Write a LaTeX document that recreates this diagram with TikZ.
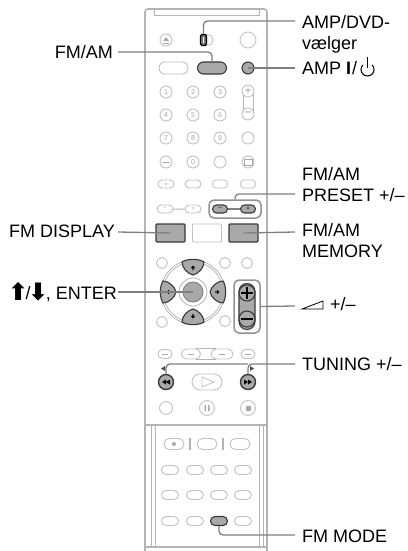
\documentclass[tikz,border=0pt]{standalone}
\usepackage{fontspec}
\setmainfont{Liberation Sans}
\newfontfamily\symfont{DejaVu Sans}
\usetikzlibrary{shapes.misc}
\definecolor{shell}{HTML}{B4B4B4}
\definecolor{btn}{HTML}{C2C2C2}
\definecolor{glyph}{HTML}{A8A8A8}
\definecolor{hot}{HTML}{A9A9A9}
\definecolor{edge}{HTML}{3A3A3A}
\definecolor{leadc}{HTML}{7F7F7F}
\tikzset{
  x=1pt,y=-1pt,
  shellline/.style={draw=shell,line width=1.6pt},
  thin shell/.style={draw=shell,line width=1pt},
  rnd/.style={circle,draw=btn,line width=.9pt,inner sep=0,fill=white,font=\fontsize{7}{7}\selectfont,text=glyph},
  pill/.style={rounded rectangle,draw=btn,line width=.9pt,inner sep=0,fill=white,minimum width=16pt,minimum height=8pt,font=\fontsize{6}{6}\selectfont,text=glyph},
  hotpill/.style={pill,draw=edge,fill=hot,line width=1.1pt,text=black},
  hotrnd/.style={rnd,draw=edge,fill=hot,line width=1.1pt,text=black},
  box/.style={rectangle,rounded corners=1pt,inner sep=0,minimum width=29pt,minimum height=18pt},
  lead/.style={draw=leadc,line width=1.3pt,rounded corners=4pt},
  lbl/.style={inner sep=0,anchor=west,align=left,font=\fontsize{18}{21}\selectfont,text=black},
  lbr/.style={inner sep=0,anchor=east,font=\fontsize{18}{21}\selectfont,text=black},
  frame/.style={draw=leadc!85,line width=1.5pt,rounded corners=5pt},
}
\newcommand{\bigarrow}[1]{\kern-2.5pt{\symfont\bfseries\fontsize{24}{21}\selectfont\raisebox{-1.5pt}{#1}}\kern-2.5pt}
\begin{document}
\begin{tikzpicture}
\useasboundingbox (0,0) rectangle (407,551);
% body of the remote
\draw[shellline,rounded corners=3pt] (145,551) -- (145,9) -- (267,9) -- (267,551);
\draw[thin shell] (154,10) -- (154,16) -- (259,16) -- (259,10);
\draw[shellline] (145,425) -- (267,425);
\draw[thin shell] (151,425) -- (151,547) (155,425) -- (155,547) (259,425) -- (259,547) (263,425) -- (263,547);
\draw[shellline] (145,547) -- (267,547);
% top block
\node[rnd,minimum size=12pt] (eject) at (166,40) {};
\fill[glyph] (163,41) -- (166,37) -- (169,41) -- cycle;
\draw[glyph,line width=.7pt] (163,43) -- (169,43);
\node[rounded rectangle,draw=btn,line width=.9pt,minimum width=12pt,minimum height=11pt,inner sep=0] (swbase) at (207,40) {};
\node[rectangle,rounded corners=1.5pt,draw=black,fill=hot!70!black,line width=1.3pt,minimum width=6pt,minimum height=11pt,inner sep=0] (sw) at (203.5,40) {};
\draw[white,line width=.6pt] (203.5,37) -- (203.5,43);
\node[rnd,minimum size=16pt] (big) at (248,40) {};
\node[pill,minimum width=29pt,minimum height=12pt] (wide) at (173.5,68) {};
\node[hotpill,minimum width=29pt,minimum height=12pt] (fmam) at (212,68) {};
\node[hotrnd,minimum size=12pt] (amp) at (248,68) {};
\foreach \n/\x/\y in {1/166/92,2/193/92,3/220/92,4/166/115,5/193/115,6/220/115,7/166/138,8/193/138,9/220/138,0/193/162}
  \node[rnd,minimum size=12pt] (n\n) at (\x,\y) {\n};
\node[rnd,minimum size=12pt] (subt) at (166,162) {};
\draw[glyph,line width=.5pt] (162,162) -- (170,162);
\node[rnd,minimum size=12pt] (r4c) at (220,162) {};
\node[rnd,minimum size=12pt] (r4d) at (248,162) {};
\draw[glyph,line width=.5pt] (244,159) rectangle (252,165);
\node[rnd,minimum size=12pt] (r3d) at (248,138) {};
\draw[thin shell] (243,92) -- (243,115) (253,92) -- (253,115);
\node[rnd,minimum size=12pt,font=\fontsize{12}{12}\selectfont] (chp) at (248,91) {+};
\node[rnd,minimum size=12pt,font=\fontsize{12}{12}\selectfont] (chm) at (248,114) {–};
\foreach \n/\x in {a/166,b/193,c/220,d/248}
  \node[pill] (p\n) at (\x,184) {};
\fill[glyph] (pa) circle (1pt);
% preset row
\node[pill] (qa) at (165,209) {–};
\node[pill] (qb) at (193,209) {+};
\draw[thin shell] (qa) -- (qb);
\node[frame,draw,minimum width=52pt,minimum height=18pt,inner sep=0] (presetframe) at (235,209) {};
\node[hotpill,minimum width=15pt] (qc) at (220,209) {–};
\node[hotpill,minimum width=15pt] (qd) at (248,209) {+};
\draw[edge,line width=1.1pt] (qc) -- (qd);
% big boxes
\node[box,draw=edge,fill=hot,line width=1.1pt] (disp) at (170.5,233) {};
\node[box,draw=btn,line width=.9pt] (midbox) at (207,233) {};
\node[box,draw=edge,fill=hot,line width=1.1pt] (mem) at (243.5,233) {};
% side circles
\foreach \n/\x/\y in {ca/162/263,cb/225/263,cc/247/263,cd/162/322,ce/225/321}
  \node[rnd,minimum size=11pt] (\n) at (\x,\y) {};
% d-pad
\coordinate (dc) at (193,292);
\draw[shell,line width=.8pt] (dc) circle (32pt) (dc) circle (30pt) (dc) circle (14pt);
\foreach \a in {0,90,180,270}{
  \begin{scope}[shift={(193,292)},rotate=\a]
    \draw[draw=edge,fill=hot,line width=1.1pt] (-11,-30) .. controls (-6,-33.5) and (6,-33.5) .. (11,-30) .. controls (11,-24) and (5,-18) .. (0,-17) .. controls (-5,-18) and (-11,-24) .. cycle;
    \fill[black] (-2.2,-24) -- (0,-26.5) -- (2.2,-24) -- (.6,-24) -- (.6,-22) -- (-.6,-22) -- (-.6,-24) -- cycle;
  \end{scope}}
\node[circle,fill=hot,draw=leadc,line width=.9pt,minimum size=20pt,inner sep=0] (enter) at (dc) {};
% volume
\node[frame,draw,minimum width=26pt,minimum height=53pt,inner sep=0] (volframe) at (247,306.5) {};
\node[rectangle,rounded corners=8pt,draw=edge,fill=hot,line width=1.1pt,minimum width=16pt,minimum height=46pt,inner sep=0] (volbody) at (247,306.5) {};
\node[circle,draw=edge,fill=hot,line width=1.1pt,minimum size=16pt,inner sep=0] (volp) at (247,293) {};
\node[circle,draw=edge,fill=hot,line width=1.1pt,minimum size=16pt,inner sep=0] (volm) at (247,319) {};
\draw[black,line width=1.2pt] (241,293) -- (253,293) (247,287) -- (247,299) (241,319) -- (253,319);
% skip row
\node[pill,minimum width=14pt,minimum height=9pt] (s1) at (165,354) {};
\node[pill,minimum width=19pt,minimum height=10pt] (s2) at (191,354) {};
\node[pill,minimum width=22pt,minimum height=10pt] (s3) at (222,354) {};
\node[pill,minimum width=14pt,minimum height=9pt] (s4) at (248,354) {};
\draw[thin shell] (s2.north east) -- (s3.north west) (s2.south east) -- (s3.south west);
\foreach \n in {s1,s2,s3,s4}{\draw[glyph,line width=.6pt] ([xshift=-3pt]\n.center) -- ([xshift=3pt]\n.center);}
% transport
\node[hotrnd,minimum size=15pt,line width=1.4pt] (rew) at (166,382) {};
\node[hotrnd,minimum size=15pt,line width=1.4pt] (ffw) at (248,382) {};
\fill[black] (166,379.5) -- (162,382) -- (166,384.5) -- cycle (170,379.5) -- (166,382) -- (170,384.5) -- cycle;
\fill[black] (248,379.5) -- (252,382) -- (248,384.5) -- cycle (244,379.5) -- (248,382) -- (244,384.5) -- cycle;
\fill[black!70] (165,366) -- (161,368.5) -- (165,371) -- cycle (250,366) -- (254,368.5) -- (250,371) -- cycle;
\node[pill,minimum width=30pt,minimum height=16pt] (play) at (207,382) {};
\draw[btn,line width=.8pt] (202,377) -- (214,382) -- (202,387) -- cycle;
\node[rnd,minimum size=13pt] (t1) at (166,408) {};
\node[rnd,minimum size=15pt] (t2) at (207,408) {};
\node[rnd,minimum size=15pt] (t3) at (248,408) {};
\fill[glyph] (204.5,405) rectangle (206,411) (208,405) rectangle (209.5,411);
\fill[glyph] (245.5,405.5) rectangle (250.5,410.5);
% lower panel
\node[pill,minimum width=20pt,minimum height=11pt] (l1) at (174,444) {};
\fill[glyph] (l1) circle (2pt);
\node[pill,minimum width=20pt,minimum height=11pt] (l2) at (207,444) {};
\node[pill,minimum width=20pt,minimum height=11pt] (l3) at (240,444) {};
\draw[shell,line width=1.3pt] (190,438) -- (190,450) (223,438) -- (223,450);
\foreach \r/\y in {a/470,b/495,c/521}
  \foreach \c/\x in {1/170,2/195,3/219,4/243}
    \node[pill,minimum width=17pt,minimum height=9pt] (m\r\c) at (\x,\y) {};
\node[hotpill,minimum width=17pt,minimum height=9pt] (mode) at (219,521) {};
% left labels and connectors
\node[lbr] (tfmam) at (113,52) {FM/AM};
\node[lbr] (tdisp) at (115,231) {FM DISPLAY};
\node[lbr] (tent) at (117,292) {\bigarrow{⬆}/\bigarrow{⬇}, ENTER};
\coordinate (w1) at (118,52);
\coordinate (w2) at (118,232);
\coordinate (w3) at (118,292);
\draw[lead] (w1) -| (fmam.north);
\draw[lead] (w2) -- (disp.center);
\draw[lead] (w3) -- (enter.center);
% right labels and connectors
\node[lbl] (tamp) at (302,34) {AMP/DVD-\\vælger};
\node[lbl] (tpow) at (302,68) {AMP {\bfseries I}\kern1pt/};
\draw[black,line width=1pt] (362.9,64.9) arc[start angle=225,end angle=-45,radius=6.5];
\draw[black,line width=1pt] (367.5,57) -- (367.5,68);
\node[lbl] (tpre) at (302,185) {FM/AM\\PRESET +/–};
\node[lbl] (tmem) at (302,241) {FM/AM\\MEMORY};
\draw[black,line width=.8pt] (323,301) -- (302,309) -- (323,309) -- cycle;
\node[lbl] (tvol) at (330,304.5) {+/–};
\node[lbl] (ttun) at (302,364) {TUNING +/–};
\node[lbl] (tmod) at (302,536) {FM MODE};
\coordinate (e1) at (295,21);
\coordinate (e2) at (295,68);
\coordinate (e3) at (295,194);
\coordinate (e4) at (295,232);
\coordinate (e5) at (295,306);
\coordinate (e6) at (295,364);
\coordinate (e7) at (295,535);
\draw[lead] (e1) -| (sw.north);
\draw[lead] (e2) -- (amp.center);
\draw[lead] (e3) -| (presetframe.north);
\draw[lead] (e4) -- (mem.center);
\draw[lead] (e5) -- (volframe.east);
\draw[lead] (e6) -| (ffw.north);
\draw[lead] (ffw.north |- e6) -| (rew.north);
\draw[lead] (e7) -| (mode.south);
\end{tikzpicture}
\end{document}
